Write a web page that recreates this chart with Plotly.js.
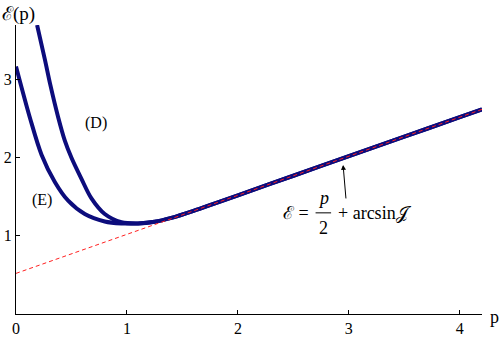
<!DOCTYPE html>
<html>
<head>
<meta charset="utf-8">
<script src="https://cdn.plot.ly/plotly-3.0.1.min.js"></script>
<style>body{margin:0;background:#fff;}</style>
</head>
<body>
<div id="plot" style="width:500px;height:338px;"></div>
<script>
// curve (E)
var eX = [0, 0.126, 0.23, 0.35, 0.47, 0.62, 0.8, 0.95, 1.1, 1.25, 1.4, 1.6, 1.8, 2.0, 2.5, 3.0, 3.5, 4.0, 4.2];
var eY = [3.17, 2.51, 2.04, 1.69, 1.45, 1.28, 1.185, 1.16, 1.16, 1.18, 1.23, 1.32, 1.42, 1.52, 1.77, 2.02, 2.27, 2.52, 2.62];
// curve (D)
var dX = [0.19, 0.26, 0.31, 0.38, 0.44, 0.50, 0.59, 0.68, 0.8, 0.95, 1.1, 1.25, 1.4, 1.6, 1.8, 2.0, 2.5, 3.0, 3.5, 4.0, 4.2];
var dY = [3.70, 3.26, 2.93, 2.52, 2.22, 2.0, 1.73, 1.48, 1.28, 1.175, 1.16, 1.18, 1.23, 1.32, 1.42, 1.52, 1.77, 2.02, 2.27, 2.52, 2.62];
// asymptote p/2 + arcsin J
var lineX = [0, 4.2];
var lineY = [0.52, 2.62];

var xTicks = [0, 1, 2, 3, 4];
var yTicks = [1, 2, 3];

var serif = "'Liberation Serif', 'Times New Roman', serif";
var navy = '#0c0c7c';

var traces = [
  {x: eX, y: eY, mode: 'lines', line: {color: navy, width: 4, shape: 'spline', smoothing: 0.9}, hoverinfo: 'skip'},
  {x: dX, y: dY, mode: 'lines', line: {color: navy, width: 4, shape: 'spline', smoothing: 0.9}, hoverinfo: 'skip'},
  {x: lineX, y: lineY, mode: 'lines', line: {color: '#ff2020', width: 1, dash: '4px,3px'}, hoverinfo: 'skip'}
];

var tickFont = {family: serif, size: 16, color: '#000'};

var layout = {
  width: 500, height: 338,
  margin: {l: 16, r: 18, t: 25, b: 24},
  paper_bgcolor: '#fff', plot_bgcolor: '#fff',
  showlegend: false,
  font: {family: serif, size: 16, color: '#000'},
  xaxis: {
    range: [0, 4.2], tickvals: xTicks, ticktext: xTicks.map(String), tickfont: tickFont,
    showgrid: false, zeroline: false, showline: true, linecolor: '#000', linewidth: 1,
    ticks: 'inside', ticklen: 4, tickcolor: '#000', fixedrange: true
  },
  yaxis: {
    range: [0, 3.7], tickvals: yTicks, ticktext: yTicks.map(String), tickfont: tickFont,
    showgrid: false, zeroline: false, showline: true, linecolor: '#000', linewidth: 1,
    ticks: 'inside', ticklen: 4, tickcolor: '#000', fixedrange: true
  },
  shapes: [
    // fraction bar
    {type: 'line', xref: 'x', yref: 'y', x0: 2.70, x1: 2.84, y0: 1.295, y1: 1.295, line: {color: '#000', width: 1}}
  ],
  annotations: [
    {xref: 'paper', yref: 'paper', x: -0.034, y: 1.0, yanchor: 'bottom', xanchor: 'left', yshift: -2,
     text: 'ℰ(p)', showarrow: false, font: {family: serif, size: 19}},
    {xref: 'paper', yref: 'paper', x: 1.0, y: 0, xanchor: 'left', yanchor: 'middle', xshift: 6, yshift: -3,
     text: 'p', showarrow: false, font: {family: serif, size: 18}},
    {xref: 'x', yref: 'y', x: 0.72, y: 2.44, text: '(D)', showarrow: false, font: {family: serif, size: 16}},
    {xref: 'x', yref: 'y', x: 0.23, y: 1.46, text: '(E)', showarrow: false, font: {family: serif, size: 16}},
    {xref: 'x', yref: 'y', x: 2.52, y: 1.295, text: 'ℰ =', showarrow: false, font: {family: serif, size: 18}},
    {xref: 'x', yref: 'y', x: 2.77, y: 1.49, text: '<i>p</i>', showarrow: false, font: {family: serif, size: 18}},
    {xref: 'x', yref: 'y', x: 2.77, y: 1.10, text: '2', showarrow: false, font: {family: serif, size: 18}},
    {xref: 'x', yref: 'y', x: 2.88, y: 1.295, xanchor: 'left', text: '+ arcsin𝒥', showarrow: false, font: {family: serif, size: 18}},
    {xref: 'x', yref: 'y', x: 2.945, y: 1.96, ax: 2.975, ay: 1.46, axref: 'x', ayref: 'y',
     text: '', showarrow: true, arrowhead: 2, arrowsize: 1, arrowwidth: 1, arrowcolor: '#000', standoff: 4}
  ]
};

Plotly.newPlot('plot', traces, layout, {displayModeBar: false, staticPlot: true});
</script>
</body>
</html>
